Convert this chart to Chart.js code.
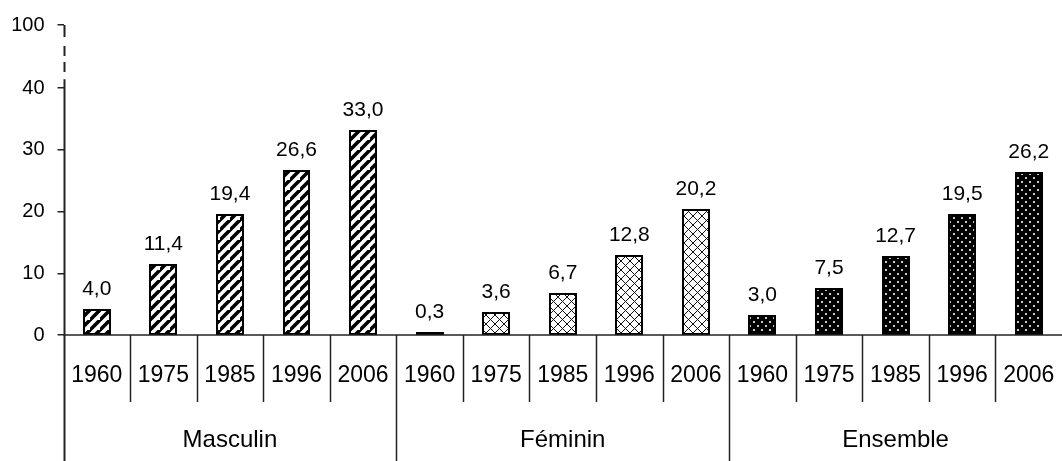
<!DOCTYPE html>
<html>
<head>
<meta charset="utf-8">
<script src="https://cdn.jsdelivr.net/npm/chart.js@4/dist/chart.umd.min.js"></script>
<style>
  html, body { margin: 0; padding: 0; background: #fff; }
  canvas { display: block; }
</style>
</head>
<body>
<canvas id="c" width="1062" height="461"></canvas>
<script>
const years = ['1960', '1975', '1985', '1996', '2006'];
const groups = ['Masculin', 'Féminin', 'Ensemble'];
const masculin = [4.0, 11.4, 19.4, 26.6, 33.0];
const feminin = [0.3, 3.6, 6.7, 12.8, 20.2];
const ensemble = [3.0, 7.5, 12.7, 19.5, 26.2];
const yTicks = [0, 10, 20, 30, 40];
const yTopLabel = '100';
const yBreakPos = 50.24; // where "100" sits on the broken axis

const FONT = "'Liberation Sans', Arial, sans-serif";
const TXT = '#000';

function makePattern(kind) {
  const c = document.createElement('canvas');
  const ctx = c.getContext('2d');
  if (kind === 'stripes') {
    const s = 10;
    c.width = s; c.height = s;
    ctx.fillStyle = '#fff'; ctx.fillRect(0, 0, s, s);
    ctx.strokeStyle = '#000'; ctx.lineWidth = 3.6;
    ctx.beginPath();
    ctx.moveTo(-1, s + 1); ctx.lineTo(s + 1, -1);
    ctx.moveTo(-s - 1, s + 1); ctx.lineTo(1, -1);
    ctx.moveTo(s - 1, 2 * s + 1); ctx.lineTo(2 * s + 1, s - 1);
    ctx.stroke();
  } else if (kind === 'cross') {
    const s = 9;
    c.width = s; c.height = s;
    ctx.fillStyle = '#fff'; ctx.fillRect(0, 0, s, s);
    ctx.strokeStyle = '#111'; ctx.lineWidth = 1;
    ctx.beginPath();
    ctx.moveTo(0, 0); ctx.lineTo(s, s);
    ctx.moveTo(s, 0); ctx.lineTo(0, s);
    ctx.stroke();
  } else {
    const s = 8;
    c.width = s; c.height = s;
    ctx.fillStyle = '#000'; ctx.fillRect(0, 0, s, s);
    ctx.fillStyle = '#c8c8c8';
    ctx.fillRect(1, 1, 2, 2);
    ctx.fillRect(5, 5, 2, 2);
  }
  return ctx.createPattern(c, 'repeat');
}

const seriesList = [masculin, feminin, ensemble];
const patternKinds = ['stripes', 'cross', 'dots'];
const labels = [];
const values = [];
const fills = [];
groups.forEach((g, gi) => {
  const pat = makePattern(patternKinds[gi]);
  years.forEach((y, yi) => {
    labels.push(g + ' ' + y);
    values.push(seriesList[gi][yi]);
    fills.push(pat);
  });
});

const decor = {
  id: 'decor',
  beforeDraw(chart) {
    const ctx = chart.ctx;
    ctx.save();
    ctx.fillStyle = '#fff';
    ctx.fillRect(0, 0, chart.width, chart.height);
    ctx.restore();
  },
  afterDatasetsDraw(chart) {
    const ctx = chart.ctx;
    const meta = chart.getDatasetMeta(0);
    ctx.save();
    ctx.strokeStyle = '#000';
    ctx.lineWidth = 2;
    meta.data.forEach(bar => {
      const left = Math.round(bar.x - bar.width / 2);
      const right = Math.round(bar.x + bar.width / 2);
      const top = Math.round(bar.y);
      const base = Math.round(bar.base);
      ctx.strokeRect(left, top, right - left, base - top);
    });
    ctx.restore();
  },
  afterDraw(chart) {
    const ctx = chart.ctx;
    const xs = chart.scales.x;
    const ys = chart.scales.y;
    const area = chart.chartArea;
    const y0 = ys.getPixelForValue(0);
    const n = labels.length;
    ctx.save();

    ctx.strokeStyle = '#222';
    ctx.lineWidth = 1.5;
    ctx.beginPath();
    ctx.moveTo(area.left, y0);
    ctx.lineTo(chart.width, y0);
    ctx.stroke();

    for (let i = 1; i < n; i++) {
      const x = Math.round((xs.getPixelForValue(i - 1) + xs.getPixelForValue(i)) / 2) + 0.5;
      const bottom = (i % years.length === 0) ? chart.height : y0 + 67;
      ctx.beginPath();
      ctx.moveTo(x, y0);
      ctx.lineTo(x, bottom);
      ctx.stroke();
    }

    const ax = Math.round(area.left) + 0.5;
    const top = ys.getPixelForValue(yBreakPos);
    const brk = ys.getPixelForValue(40) - 9;
    ctx.lineWidth = 2;
    ctx.strokeStyle = '#222';
    ctx.beginPath();
    ctx.moveTo(ax, chart.height);
    ctx.lineTo(ax, brk);
    ctx.moveTo(ax, top);
    ctx.lineTo(ax, top + 12);
    ctx.moveTo(ax, top + 21);
    ctx.lineTo(ax, top + 31);
    ctx.moveTo(ax, top + 37);
    ctx.lineTo(ax, top + 47);
    ctx.stroke();

    ctx.fillStyle = TXT;
    ctx.font = '23px ' + FONT;
    ctx.textAlign = 'center';
    ctx.textBaseline = 'alphabetic';
    for (let i = 0; i < n; i++) {
      ctx.fillText(years[i % years.length], xs.getPixelForValue(i), y0 + 47);
    }
    ctx.font = '24px ' + FONT;
    groups.forEach((g, gi) => {
      const x = xs.getPixelForValue(gi * years.length + 2);
      ctx.fillText(g, x, y0 + 112);
    });

    ctx.font = '21px ' + FONT;
    const meta = chart.getDatasetMeta(0);
    meta.data.forEach((bar, i) => {
      const txt = values[i].toFixed(1).replace('.', ',');
      ctx.fillText(txt, bar.x, bar.y - 15);
    });
    ctx.restore();
  }
};

new Chart(document.getElementById('c'), {
  type: 'bar',
  data: {
    labels: labels,
    datasets: [{
      data: values,
      backgroundColor: fills,
      borderWidth: 0,
      categoryPercentage: 1,
      barPercentage: 0.39
    }]
  },
  options: {
    responsive: false,
    devicePixelRatio: 1,
    animation: false,
    layout: { padding: { top: 21, bottom: 126, left: 0, right: -3 } },
    plugins: { legend: { display: false }, tooltip: { enabled: false } },
    scales: {
      x: { display: false, offset: true },
      y: {
        min: 0,
        max: yBreakPos,
        afterBuildTicks: s => { s.ticks = yTicks.concat([yBreakPos]).map(v => ({ value: v })); },
        afterFit: s => { s.width = 63.5; },
        ticks: {
          autoSkip: false,
          padding: 13,
          color: TXT,
          font: { family: FONT, size: 20 },
          callback: v => (v === yBreakPos ? yTopLabel : String(v))
        },
        grid: { drawOnChartArea: false, drawTicks: true, tickLength: 6, color: '#222', lineWidth: 1.5 },
        border: { display: false }
      }
    }
  },
  plugins: [decor]
});
</script>
</body>
</html>
